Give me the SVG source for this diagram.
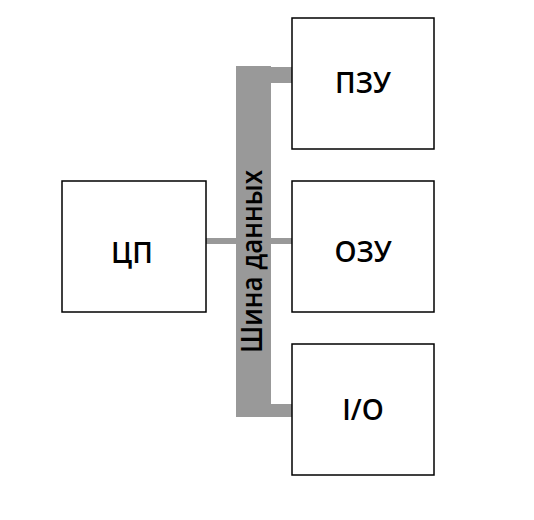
<svg xmlns="http://www.w3.org/2000/svg" width="534" height="520" viewBox="0 0 534 520">
<style>
.box{fill:#fff;stroke:#000;stroke-width:1.5}
.bus{fill:#999}
.lbl{font-family:"Open Sans","Noto Sans",sans-serif;font-size:28px;font-weight:600;fill:#000;text-anchor:middle}
</style>
<rect width="534" height="520" fill="#fff"/>
<g id="connectors">
<rect class="bus" x="236" y="66" width="35" height="351"/>
<rect class="bus" x="271" y="67" width="21" height="16"/>
<rect class="bus" x="271" y="404" width="21" height="13"/>
<rect class="bus" x="206" y="238" width="30" height="6"/>
<rect class="bus" x="271" y="238" width="21" height="6"/>
<text class="lbl" transform="translate(262,261.5) rotate(-90)" x="0" y="0" textLength="183" lengthAdjust="spacingAndGlyphs">Шина данных</text>
</g>
<g id="cpu">
<rect class="box" x="62" y="181" width="144" height="131"/>
<text class="lbl" x="132" y="263">ЦП</text>
</g>
<g id="rom">
<rect class="box" x="292" y="18" width="142" height="131"/>
<text class="lbl" x="363" y="93">ПЗУ</text>
</g>
<g id="ram">
<rect class="box" x="292" y="181" width="142" height="131"/>
<text class="lbl" x="363" y="262">ОЗУ</text>
</g>
<g id="io">
<rect class="box" x="292" y="344" width="142" height="131"/>
<text class="lbl" x="363" y="420">I/O</text>
</g>
</svg>
